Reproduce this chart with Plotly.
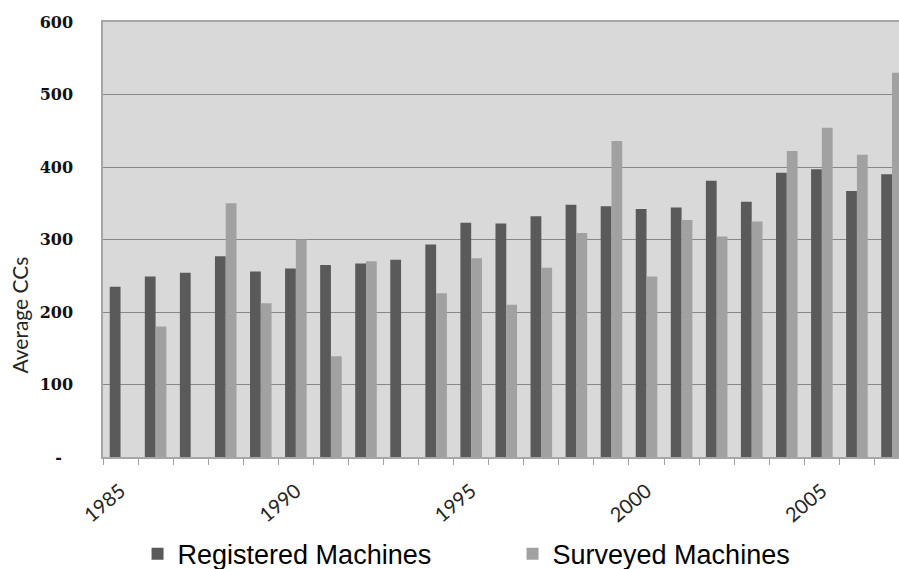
import plotly.graph_objects as go

years = [str(y) for y in range(1985, 2008)]
registered = [235, 249, 254, 277, 256, 260, 265, 267, 272, 293, 323, 322,
              332, 348, 346, 342, 344, 381, 352, 392, 397, 367, 390]
surveyed = [None, 180, None, 350, 212, 300, 139, 270, None, 226, 274, 210,
            261, 309, 436, 249, 327, 304, 325, 422, 454, 417, 530]
x_labels = [y if int(y) % 5 == 0 else "" for y in years]
y_ticks = [0, 100, 200, 300, 400, 500, 600]
y_labels = ["-\u00a0\u00a0", "100", "200", "300", "400", "500", "600"]
y_title = "Average CCs"

fig = go.Figure()
fig.add_trace(go.Bar(x=years, y=registered, name="Registered Machines",
                     marker=dict(color="#5a5a5a", line=dict(width=0))))
fig.add_trace(go.Bar(x=years, y=surveyed, name="Surveyed Machines",
                     marker=dict(color="#a1a1a1", line=dict(width=0))))

fig.add_annotation(text=y_title, xref="paper", yref="paper",
                   x=-0.1045, y=0.327, xanchor="center", yanchor="middle",
                   textangle=-90, showarrow=False,
                   font=dict(family="Lato", size=21, color="#262626"))

fig.update_layout(
    width=899, height=569,
    margin=dict(l=103, r=0, t=22, b=112),
    paper_bgcolor="white", plot_bgcolor="#d9d9d9",
    barmode="group", bargap=0.385, bargroupgap=0,
    showlegend=True,
    legend=dict(orientation="h", xref="container", yref="container",
                x=0.153, xanchor="left", y=0.026, yanchor="middle",
                font=dict(family="Liberation Sans", size=27, color="#000"),
                entrywidth=330, entrywidthmode="pixels", bgcolor="rgba(0,0,0,0)"),
    xaxis=dict(type="category", range=[-0.5, 22.2], automargin=False,
               tickmode="array", tickvals=years, ticktext=x_labels,
               tickangle=-40, tickson="boundaries", ticks="outside", ticklen=6,
               ticklabelstandoff=13,
               tickcolor="#a0a0a0", showline=True, linecolor="#a6a6a6", linewidth=1.5,
               mirror=True, showgrid=False,
               tickfont=dict(family="Lato", size=20, color="#262626")),
    yaxis=dict(range=[0, 600], tickmode="array", tickvals=y_ticks, ticktext=y_labels,
               automargin=False,
               showgrid=True, gridcolor="#878787", gridwidth=1,
               showline=True, linecolor="#a6a6a6", linewidth=1.5,
               ticks="", ticklabelstandoff=25, zeroline=False,
               tickfont=dict(family="DejaVu Serif", size=16, color="#111", weight="bold")),
)

fig.write_html("out.html")
